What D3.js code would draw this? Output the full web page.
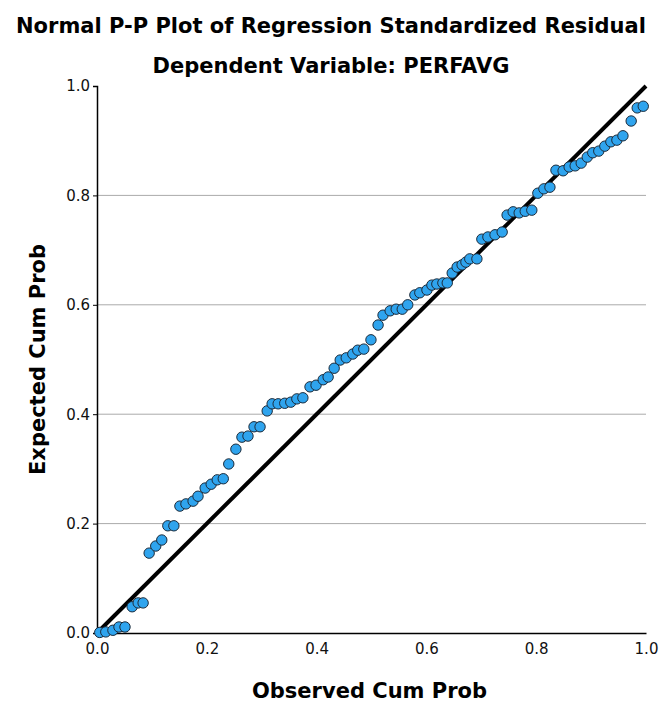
<!DOCTYPE html>
<html>
<head>
<meta charset="utf-8">
<script src="https://cdn.jsdelivr.net/npm/d3@7"></script>
<style>
  body { margin: 0; background: #fff; }
  text { font-family: "DejaVu Sans", sans-serif; }
</style>
</head>
<body>
<script>
// observed cumulative probability (x)
const observed = [
  0.005, 0.016, 0.029, 0.040, 0.051, 0.064, 0.075, 0.084, 0.095, 0.107,
  0.118, 0.129, 0.140, 0.151, 0.162, 0.175, 0.184, 0.197, 0.208, 0.219,
  0.230, 0.240, 0.253, 0.264, 0.275, 0.286, 0.297, 0.310, 0.319, 0.330,
  0.342, 0.353, 0.364, 0.375, 0.388, 0.399, 0.412, 0.421, 0.432, 0.443,
  0.454, 0.466, 0.475, 0.486, 0.499, 0.512, 0.521, 0.534, 0.545, 0.556,
  0.566, 0.579, 0.588, 0.601, 0.610, 0.619, 0.630, 0.638, 0.647, 0.656,
  0.665, 0.672, 0.679, 0.692, 0.701, 0.712, 0.725, 0.738, 0.747, 0.758,
  0.769, 0.780, 0.792, 0.803, 0.814, 0.825, 0.836, 0.849, 0.860, 0.871,
  0.882, 0.893, 0.903, 0.914, 0.925, 0.936, 0.947, 0.958, 0.973, 0.984,
  0.995
];

// expected cumulative probability (y)
const expected = [
  0.001, 0.002, 0.005, 0.011, 0.011, 0.048, 0.055, 0.055, 0.146, 0.159,
  0.170, 0.196, 0.196, 0.232, 0.236, 0.241, 0.250, 0.265, 0.272, 0.280,
  0.282, 0.309, 0.336, 0.358, 0.360, 0.377, 0.377, 0.406, 0.419, 0.419,
  0.420, 0.422, 0.428, 0.430, 0.450, 0.453, 0.463, 0.468, 0.484, 0.499,
  0.503, 0.510, 0.517, 0.519, 0.536, 0.563, 0.581, 0.589, 0.592, 0.592,
  0.600, 0.618, 0.622, 0.627, 0.636, 0.638, 0.640, 0.640, 0.658, 0.669,
  0.673, 0.678, 0.684, 0.684, 0.720, 0.724, 0.728, 0.733, 0.764, 0.770,
  0.768, 0.771, 0.773, 0.804, 0.812, 0.815, 0.846, 0.845, 0.852, 0.854,
  0.859, 0.870, 0.878, 0.881, 0.890, 0.898, 0.901, 0.909, 0.936, 0.960,
  0.963
];

const ticks = [0, 0.2, 0.4, 0.6, 0.8, 1.0];
const gridTicks = [0.2, 0.4, 0.6, 0.8];

const titleText = "Normal P-P Plot of Regression Standardized Residual";
const subtitleText = "Dependent Variable: PERFAVG";
const xTitle = "Observed Cum Prob";
const yTitle = "Expected Cum Prob";

const W = 662, H = 707;
const margin = { top: 86, right: 16, bottom: 74, left: 97 },
  width = W - margin.left - margin.right,
  height = H - margin.top - margin.bottom;

const data = observed.map((d, i) => ({ x: d, y: expected[i] }));

const svg = d3.select("body").append("svg")
  .attr("width", W)
  .attr("height", H);

// titles
svg.append("text")
  .attr("x", W / 2).attr("y", 33)
  .attr("text-anchor", "middle")
  .style("font-size", "21px").style("font-weight", "bold")
  .text(titleText);

svg.append("text")
  .attr("x", W / 2).attr("y", 73)
  .attr("text-anchor", "middle")
  .style("font-size", "21px").style("font-weight", "bold")
  .text(subtitleText);

const g = svg.append("g")
  .attr("transform", "translate(" + margin.left + "," + margin.top + ")");

const x = d3.scaleLinear().domain([0, 1]).range([0, width]);
const y = d3.scaleLinear().domain([0, 1]).range([height, 0]);

// gridlines
g.selectAll(".grid")
  .data(gridTicks)
  .enter().append("line")
  .attr("class", "grid")
  .attr("x1", 0).attr("x2", width)
  .attr("y1", d => y(d)).attr("y2", d => y(d))
  .attr("stroke", "#aaa")
  .attr("stroke-width", 1);

// axes
const xAxis = g.append("g")
  .attr("transform", "translate(0," + height + ")")
  .call(d3.axisBottom(x).tickValues(ticks).tickFormat(d3.format(".1f")).tickSize(0).tickPadding(10));

const yAxis = g.append("g")
  .call(d3.axisLeft(y).tickValues(ticks).tickFormat(d3.format(".1f")).tickSize(4).tickPadding(3));

[xAxis, yAxis].forEach(a => {
  a.select(".domain").attr("stroke", "#000").attr("stroke-width", 1.5);
  a.selectAll("text").style("font-size", "15px").attr("fill", "#111");
});

// reference diagonal
g.append("line")
  .attr("x1", x(0)).attr("y1", y(0))
  .attr("x2", x(1)).attr("y2", y(1))
  .attr("stroke", "#000")
  .attr("stroke-width", 4);

// points
g.selectAll(".dot")
  .data(data)
  .enter().append("circle")
  .attr("class", "dot")
  .attr("cx", d => x(d.x))
  .attr("cy", d => y(d.y))
  .attr("r", 5.2)
  .attr("fill", "#2fa4ee")
  .attr("stroke", "#1b2b3b")
  .attr("stroke-width", 1);

// axis titles
svg.append("text")
  .attr("x", margin.left + width / 2 - 2).attr("y", 698)
  .attr("text-anchor", "middle")
  .style("font-size", "21px").style("font-weight", "bold")
  .text(xTitle);

svg.append("text")
  .attr("transform", "translate(45," + (margin.top + height / 2) + ") rotate(-90)")
  .attr("text-anchor", "middle")
  .style("font-size", "21px").style("font-weight", "bold")
  .text(yTitle);
</script>
</body>
</html>
